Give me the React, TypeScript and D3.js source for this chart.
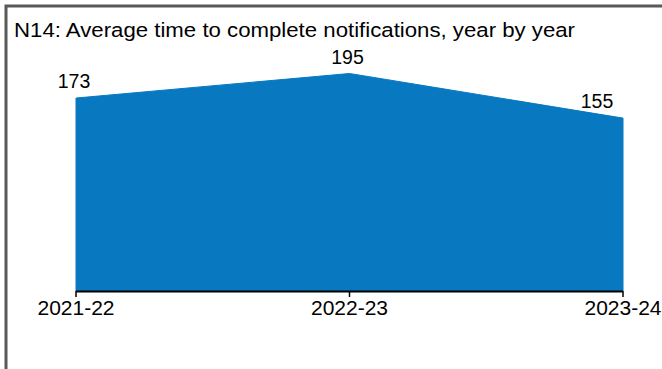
import React from "react";
import * as d3 from "d3";

const categories: string[] = ["2021-22", "2022-23", "2023-24"];
const values: number[] = [173, 195, 155];
const title = "N14: Average time to complete notifications, year by year";

const W = 662;
const H = 369;
const FONT = "'Liberation Sans', Arial, sans-serif";

export default function App() {
  const x = d3.scalePoint<string>().domain(categories).range([76, 623]);
  const y = d3.scaleLinear().domain([0, 195]).range([291, 73.5]);
  const data = categories.map((c, i) => ({ c, v: values[i] }));
  const area = d3
    .area<{ c: string; v: number }>()
    .x((d) => x(d.c) as number)
    .y0(y(0))
    .y1((d) => y(d.v));
  const labelHalf = 16;
  const maxLabelX = 613 - labelHalf;

  return (
    <div style={{ position: "fixed", left: 0, top: 0, width: W, height: H, background: "#fff" }}>
      <svg width={W} height={H} style={{ display: "block" }}>
        <rect x={0} y={0} width={W} height={H} fill="#fff" />
        <path d={`M6,${H + 5} V6 H${W + 5}`} fill="none" stroke="#595959" strokeWidth={3} />
        <text
          x={14}
          y={36.5}
          fontFamily={FONT}
          fontSize={20.5}
          fill="#000"
          textLength={561}
          lengthAdjust="spacingAndGlyphs"
        >
          {title}
        </text>
        <path d={area(data) || ""} fill="#0879C1" stroke="#0879C1" strokeWidth={1} />
        <line x1={x(categories[0])} x2={x(categories[categories.length - 1])} y1={291.5} y2={291.5} stroke="#000" strokeWidth={2} />
        {categories.map((c) => (
          <line key={"t" + c} x1={x(c)} x2={x(c)} y1={291} y2={297} stroke="#000" strokeWidth={1.5} />
        ))}
        {categories.map((c) => (
          <text
            key={"l" + c}
            x={x(c)}
            y={315}
            textAnchor="middle"
            fontFamily={FONT}
            fontSize={21}
            fill="#000"
          >
            {c}
          </text>
        ))}
        {data.map((d) => (
          <text
            key={"v" + d.c}
            x={Math.min((x(d.c) as number) - 2, maxLabelX)}
            y={y(d.v) - 10}
            textAnchor="middle"
            fontFamily={FONT}
            fontSize={19.5}
            fill="#000"
          >
            {d.v}
          </text>
        ))}
      </svg>
    </div>
  );
}
